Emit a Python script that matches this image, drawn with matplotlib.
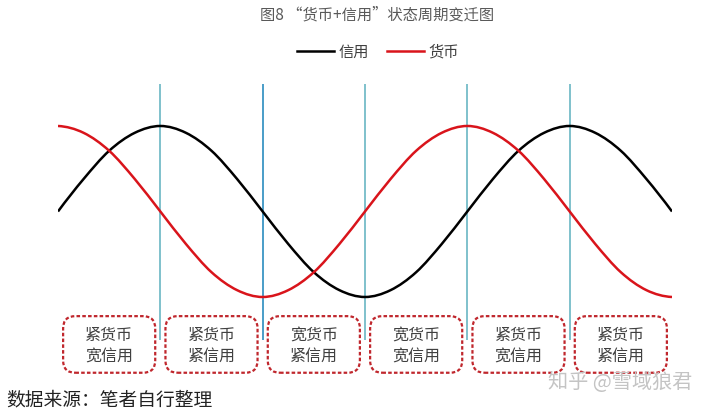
import matplotlib
matplotlib.use("Agg")
import matplotlib.pyplot as plt
from matplotlib.path import Path
from matplotlib.patches import PathPatch, FancyBboxPatch
from matplotlib.lines import Line2D

plt.rcParams['font.family'] = ['Noto Sans CJK SC', 'DejaVu Sans']

# phase positions (quarter cycle = 1) and curve values
phase = [0, 0.25, 0.5, 0.75, 1, 1.25, 1.5, 1.75, 2, 2.25, 2.5, 2.75, 3,
         3.25, 3.5, 3.75, 4, 4.25, 4.5, 4.75, 5, 5.25, 5.5, 5.75, 6]
credit = [0, 0.38, 0.71, 0.92, 1, 0.92, 0.71, 0.38, 0, -0.38, -0.71, -0.92, -1,
          -0.92, -0.71, -0.38, 0, 0.38, 0.71, 0.92, 1, 0.92, 0.71, 0.38, 0]
money = [1, 0.92, 0.71, 0.38, 0, -0.38, -0.71, -0.92, -1, -0.92, -0.71, -0.38, 0,
         0.38, 0.71, 0.92, 1, 0.92, 0.71, 0.38, 0, -0.38, -0.71, -0.92, -1]
borders = [1, 2, 3, 4, 5]
border_colors = ['#6ab6c4', '#2b8cbf', '#6ab6c4', '#6ab6c4', '#6ab6c4']
states = ['紧货币\n宽信用', '紧货币\n紧信用', '宽货币\n紧信用',
          '宽货币\n宽信用', '紧货币\n宽信用', '紧货币\n紧信用']


def smooth_path(xs, ys):
    # bezier through the points, like a smoothed line in Excel
    # end ghosts: quadratic extrapolation from the three outer points
    gx = [3 * xs[0] - 3 * xs[1] + xs[2]] + list(xs) + [3 * xs[-1] - 3 * xs[-2] + xs[-3]]
    gy = [3 * ys[0] - 3 * ys[1] + ys[2]] + list(ys) + [3 * ys[-1] - 3 * ys[-2] + ys[-3]]
    verts = [(xs[0], ys[0])]
    codes = [Path.MOVETO]
    for i in range(1, len(gx) - 2):
        x0, y0 = gx[i - 1], gy[i - 1]
        x1, y1 = gx[i], gy[i]
        x2, y2 = gx[i + 1], gy[i + 1]
        x3, y3 = gx[i + 2], gy[i + 2]
        c1 = (x1 + (x2 - x0) / 6, y1 + (y2 - y0) / 6)
        c2 = (x2 - (x3 - x1) / 6, y2 - (y3 - y1) / 6)
        verts += [c1, c2, (x2, y2)]
        codes += [Path.CURVE4] * 3
    return Path(verts, codes)


W, H = 720, 413
fig = plt.figure(figsize=(7.2, 4.13), dpi=100)
ax = fig.add_axes([58 / W, 1 - 340 / H, 614 / W, 256 / H])
ax.set_xlim(0, 6)
ax.set_ylim(-1.503, 1.491)
ax.axis('off')

for x, c in zip(borders, border_colors):
    ax.axvline(x, color=c, lw=1.2, zorder=1)

ax.add_patch(PathPatch(smooth_path(phase, credit), fill=False, color='black', lw=1.8, zorder=3))
ax.add_patch(PathPatch(smooth_path(phase, money), fill=False, color='#d9141b', lw=1.8, zorder=3))

for i, s in enumerate(states):
    box = FancyBboxPatch((i + 0.5 - 0.45 + 0.08, -1.89 + 0.1), 0.9 - 0.16, 0.67 - 0.2,
                         boxstyle='round,pad=0.08,rounding_size=0.12',
                         mutation_aspect=1.2, fill=False, ec='#c0272d', lw=1.6,
                         ls=(0, (1.6, 1.0)), clip_on=False, zorder=2)
    ax.add_patch(box)
    ax.text(i + 0.5, -1.575, s, ha='center', va='center', fontsize=11.5,
            color='#404040', linespacing=1.3, clip_on=False)

fig.text(377 / W, 1 - 15 / H, '图8 “货币+信用”状态周期变迁图', ha='center', va='center',
         fontsize=11, color='#595959')

handles = [Line2D([], [], color='black', lw=1.8), Line2D([], [], color='#d9141b', lw=1.8)]
fig.legend(handles, ['信用', '货币'], loc='center', bbox_to_anchor=(378 / W, 1 - 52 / H),
           ncol=2, frameon=False, fontsize=11, handlelength=2.4, handletextpad=0.3,
           columnspacing=1.2, labelcolor='#404040')

fig.text(6 / W, 1 - 400 / H, '数据来源：笔者自行整理', ha='left', va='center',
         fontsize=13.5, color='#222222')
fig.text(548 / W, 1 - 383 / H, '知乎 @雪域狼君', ha='left', va='center',
         fontsize=14.5, color='#c4c4c4')

fig.savefig('out.png', dpi=100)
